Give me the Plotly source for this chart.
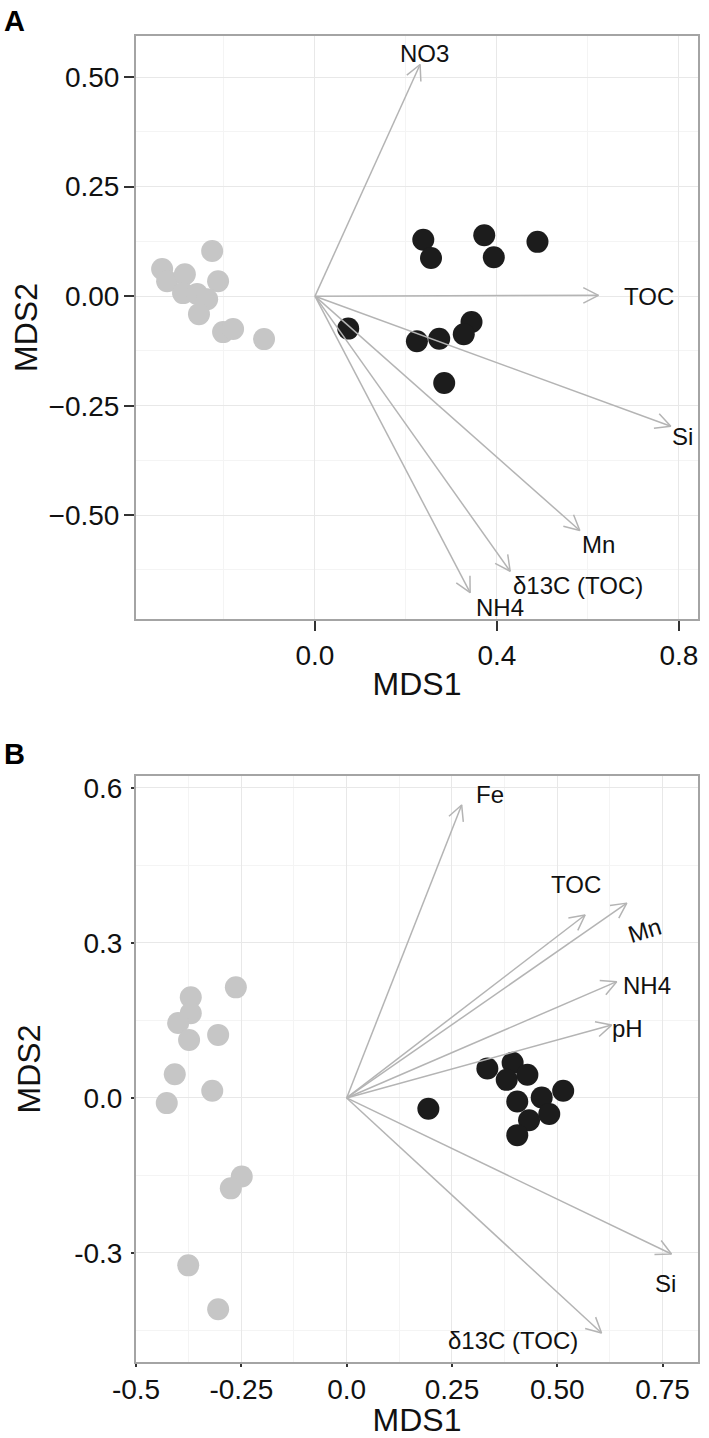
import numpy as np
import plotly.graph_objects as go

# ---------------- Panel A data ----------------
a_gray_x = [-0.336, -0.325, -0.286, -0.226, -0.213, -0.290, -0.259, -0.237, -0.255, -0.202, -0.180, -0.112]
a_gray_y = [0.062, 0.034, 0.050, 0.103, 0.034, 0.007, 0.005, -0.007, -0.041, -0.082, -0.075, -0.098]
a_black_x = [0.238, 0.255, 0.372, 0.393, 0.489, 0.344, 0.327, 0.273, 0.224, 0.073, 0.284]
a_black_y = [0.129, 0.087, 0.139, 0.089, 0.124, -0.059, -0.087, -0.097, -0.103, -0.074, -0.198]

a_vars = ["NO3", "TOC", "Si", "Mn", "δ13C (TOC)", "NH4"]
a_vec_x = [0.231, 0.623, 0.782, 0.582, 0.429, 0.341]
a_vec_y = [0.529, 0.002, -0.297, -0.535, -0.628, -0.677]
a_lab_x = [0.240, 0.733, 0.808, 0.624, 0.579, 0.407]
a_lab_y = [0.555, 0.000, -0.320, -0.568, -0.660, -0.710]
a_lab_angle = [0, 0, 0, 0, 0, 0]

a_xticks = [0.0, 0.4, 0.8]
a_xticktext = ["0.0", "0.4", "0.8"]
a_xminor = [-0.2, 0.2, 0.6]
a_yticks = [-0.5, -0.25, 0.0, 0.25, 0.5]
a_yticktext = ["\u22120.50", "\u22120.25", "0.00", "0.25", "0.50"]
a_yminor = [-0.625, -0.375, -0.125, 0.125, 0.375]

# ---------------- Panel B data ----------------
b_gray_x = [-0.263, -0.370, -0.370, -0.400, -0.374, -0.305, -0.408, -0.319, -0.427, -0.249, -0.275, -0.376, -0.305]
b_gray_y = [0.214, 0.195, 0.164, 0.145, 0.112, 0.122, 0.046, 0.014, -0.010, -0.152, -0.175, -0.324, -0.409]
b_black_x = [0.194, 0.334, 0.394, 0.380, 0.429, 0.514, 0.463, 0.405, 0.481, 0.433, 0.405]
b_black_y = [-0.021, 0.057, 0.068, 0.035, 0.045, 0.014, 0.001, -0.007, -0.031, -0.043, -0.072]

b_vars = ["Fe", "TOC", "Mn", "NH4", "pH", "Si", "δ13C (TOC)"]
b_vec_x = [0.273, 0.566, 0.665, 0.641, 0.629, 0.771, 0.605]
b_vec_y = [0.567, 0.354, 0.377, 0.225, 0.141, -0.302, -0.455]
b_lab_x = [0.340, 0.544, 0.706, 0.714, 0.666, 0.756, 0.395]
b_lab_y = [0.588, 0.414, 0.324, 0.217, 0.135, -0.359, -0.470]
b_lab_angle = [0, 0, -17, 0, 0, 0, 0]

b_xticks = [-0.5, -0.25, 0.0, 0.25, 0.5, 0.75]
b_xticktext = ["-0.5", "-0.25", "0.0", "0.25", "0.50", "0.75"]
b_xminor = [-0.375, -0.125, 0.125, 0.375, 0.625]
b_yticks = [-0.3, 0.0, 0.3, 0.6]
b_yticktext = ["-0.3", "0.0", "0.3", "0.6"]
b_yminor = [-0.45, -0.15, 0.15, 0.45]

# ---------------- layout geometry (page pixels; body margin removed in post_script) ----------------
W, H = 709, 1438
PLOT_L, PLOT_R, PLOT_T, PLOT_B = 136, 698, 36, 1362
ML, MT, MR, MB = PLOT_L, PLOT_T, W - PLOT_R, H - PLOT_B
PW = PLOT_R - PLOT_L
PH = PLOT_B - PLOT_T
A_xr = [-0.3934, 0.8418]
A_yr = [-0.737, 0.594]
B_xr = [-0.5, 0.834]
B_yr = [-0.511, 0.623]
A_dom = [(PLOT_B - 619) / PH, 1.0]
B_dom = [0.0, (PLOT_B - 776) / PH]

FONT = "Liberation Sans, Arial, Helvetica, sans-serif"
GRAY_PT = "#c6c6c6"
BLACK_PT = "#1c1c1c"
ARROW = "#b4b4b4"


def arrow_paths(vx, vy, xr, yr, dom):
    sx = PW / (xr[1] - xr[0])
    sy = PH * (dom[1] - dom[0]) / (yr[1] - yr[0])
    L = 17.0
    th = np.radians(27)
    lx, ly, hx, hy = [], [], [], []
    for x, y in zip(vx, vy):
        lx += [0, x, None]
        ly += [0, y, None]
        px, py = x * sx, y * sy
        n = np.hypot(px, py)
        ux, uy = px / n, py / n
        arms = []
        for s in (1, -1):
            c, si = np.cos(s * th), np.sin(s * th)
            rx = ux * c - uy * si
            ry = ux * si + uy * c
            arms.append((x - L * rx / sx, y - L * ry / sy))
        hx += [arms[0][0], x, arms[1][0], None]
        hy += [arms[0][1], y, arms[1][1], None]
    return lx + hx, ly + hy


fig = go.Figure()

# Panel A
fig.add_trace(go.Scatter(x=a_gray_x, y=a_gray_y, mode="markers",
                         marker=dict(size=22, color=GRAY_PT, line=dict(width=0)),
                         xaxis="x", yaxis="y", showlegend=False))
fig.add_trace(go.Scatter(x=a_black_x, y=a_black_y, mode="markers",
                         marker=dict(size=22, color=BLACK_PT, line=dict(width=0)),
                         xaxis="x", yaxis="y", showlegend=False))
ax_, ay_ = arrow_paths(a_vec_x, a_vec_y, A_xr, A_yr, A_dom)
fig.add_trace(go.Scatter(x=ax_, y=ay_, mode="lines",
                         line=dict(color=ARROW, width=1.5),
                         xaxis="x", yaxis="y", showlegend=False))

# Panel B
fig.add_trace(go.Scatter(x=b_gray_x, y=b_gray_y, mode="markers",
                         marker=dict(size=22, color=GRAY_PT, line=dict(width=0)),
                         xaxis="x2", yaxis="y2", showlegend=False))
fig.add_trace(go.Scatter(x=b_black_x, y=b_black_y, mode="markers",
                         marker=dict(size=22, color=BLACK_PT, line=dict(width=0)),
                         xaxis="x2", yaxis="y2", showlegend=False))
bx_, by_ = arrow_paths(b_vec_x, b_vec_y, B_xr, B_yr, B_dom)
fig.add_trace(go.Scatter(x=bx_, y=by_, mode="lines",
                         line=dict(color=ARROW, width=1.5),
                         xaxis="x2", yaxis="y2", showlegend=False))

annotations = []
for name, x, y, ang in zip(a_vars, a_lab_x, a_lab_y, a_lab_angle):
    annotations.append(dict(x=x, y=y, xref="x", yref="y", text=name, showarrow=False,
                            xanchor="center", yanchor="middle", textangle=ang,
                            font=dict(family=FONT, size=24, color="#111111")))
for name, x, y, ang in zip(b_vars, b_lab_x, b_lab_y, b_lab_angle):
    annotations.append(dict(x=x, y=y, xref="x2", yref="y2", text=name, showarrow=False,
                            xanchor="center", yanchor="middle", textangle=ang,
                            font=dict(family=FONT, size=24, color="#111111")))
annotations.append(dict(x=(14 - PLOT_L) / PW, y=(PLOT_B - 21) / PH, xref="paper", yref="paper",
                        text="<b>A</b>", showarrow=False, xanchor="center", yanchor="middle",
                        font=dict(family=FONT, size=29, color="#000000")))
annotations.append(dict(x=(14 - PLOT_L) / PW, y=(PLOT_B - 754) / PH, xref="paper", yref="paper",
                        text="<b>B</b>", showarrow=False, xanchor="center", yanchor="middle",
                        font=dict(family=FONT, size=29, color="#000000")))


def axis(rng, dom, tv, tt, minor, title, anchor, ticklen, standoff, tls):
    return dict(range=rng, domain=dom, anchor=anchor, tickmode="array", tickvals=tv, ticktext=tt,
                ticks="outside", ticklen=ticklen, tickwidth=2, tickcolor="#333333",
                ticklabelstandoff=tls,
                tickfont=dict(family=FONT, size=28, color="#111111"),
                showline=True, mirror=True, linecolor="#a4a4a4", linewidth=2,
                showgrid=True, gridcolor="#e8e8e8", gridwidth=1,
                minor=dict(tickvals=minor, showgrid=True, gridcolor="#f4f4f4", gridwidth=1, ticks=""),
                zeroline=False,
                title=dict(text=title, standoff=standoff, font=dict(family=FONT, size=32, color="#111111")),
                automargin=False)


fig.update_layout(
    width=W, height=H,
    margin=dict(l=ML, r=MR, t=MT, b=MB),
    paper_bgcolor="white", plot_bgcolor="white",
    showlegend=False,
    xaxis=axis(A_xr, [0, 1], a_xticks, a_xticktext, a_xminor, "MDS1", "y", 10, 3, 0),
    yaxis=axis(A_yr, A_dom, a_yticks, a_yticktext, a_yminor, "MDS2", "x", 10, 1, -1),
    xaxis2=axis(B_xr, [0, 1], b_xticks, b_xticktext, b_xminor, "MDS1", "y2", 3, 8, -2),
    yaxis2=axis(B_yr, B_dom, b_yticks, b_yticktext, b_yminor, "MDS2", "x2", 3, 24, 3),
    annotations=annotations,
)

fig.write_html("out.html", config={"displayModeBar": False},
               post_script="document.body.style.margin='0px';")
